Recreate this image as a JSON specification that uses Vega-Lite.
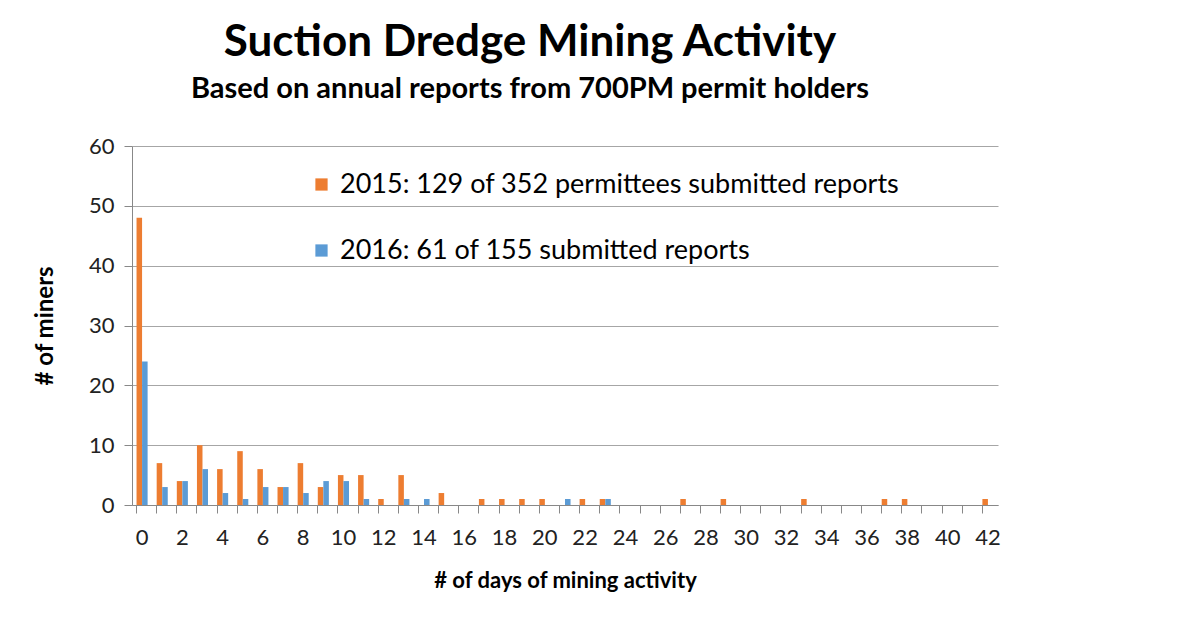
{
  "$schema": "https://vega.github.io/schema/vega-lite/v6.json",
  "width": 866,
  "height": 359,
  "autosize": "none",
  "padding": {"left": 132, "top": 146, "right": 201, "bottom": 129},
  "background": "white",
  "config": {"view": {"stroke": null}, "font": "Lato"},
  "title": {
    "text": "Suction Dredge Mining Activity",
    "subtitle": "Based on annual reports from 700PM permit holders",
    "font": "Lato", "fontSize": 44, "fontWeight": "bold", "color": "black",
    "subtitleFont": "Lato", "subtitleFontSize": 29, "subtitleFontWeight": "bold", "subtitleColor": "black",
    "subtitlePadding": 10, "anchor": "middle", "dx": -35, "offset": 31
  },
  "data": {"values": [
    {"day": 0, "series": "2015: 129 of 352 permittees submitted reports", "miners": 48},
    {"day": 1, "series": "2015: 129 of 352 permittees submitted reports", "miners": 7},
    {"day": 2, "series": "2015: 129 of 352 permittees submitted reports", "miners": 4},
    {"day": 3, "series": "2015: 129 of 352 permittees submitted reports", "miners": 10},
    {"day": 4, "series": "2015: 129 of 352 permittees submitted reports", "miners": 6},
    {"day": 5, "series": "2015: 129 of 352 permittees submitted reports", "miners": 9},
    {"day": 6, "series": "2015: 129 of 352 permittees submitted reports", "miners": 6},
    {"day": 7, "series": "2015: 129 of 352 permittees submitted reports", "miners": 3},
    {"day": 8, "series": "2015: 129 of 352 permittees submitted reports", "miners": 7},
    {"day": 9, "series": "2015: 129 of 352 permittees submitted reports", "miners": 3},
    {"day": 10, "series": "2015: 129 of 352 permittees submitted reports", "miners": 5},
    {"day": 11, "series": "2015: 129 of 352 permittees submitted reports", "miners": 5},
    {"day": 12, "series": "2015: 129 of 352 permittees submitted reports", "miners": 1},
    {"day": 13, "series": "2015: 129 of 352 permittees submitted reports", "miners": 5},
    {"day": 15, "series": "2015: 129 of 352 permittees submitted reports", "miners": 2},
    {"day": 17, "series": "2015: 129 of 352 permittees submitted reports", "miners": 1},
    {"day": 18, "series": "2015: 129 of 352 permittees submitted reports", "miners": 1},
    {"day": 19, "series": "2015: 129 of 352 permittees submitted reports", "miners": 1},
    {"day": 20, "series": "2015: 129 of 352 permittees submitted reports", "miners": 1},
    {"day": 22, "series": "2015: 129 of 352 permittees submitted reports", "miners": 1},
    {"day": 23, "series": "2015: 129 of 352 permittees submitted reports", "miners": 1},
    {"day": 27, "series": "2015: 129 of 352 permittees submitted reports", "miners": 1},
    {"day": 29, "series": "2015: 129 of 352 permittees submitted reports", "miners": 1},
    {"day": 33, "series": "2015: 129 of 352 permittees submitted reports", "miners": 1},
    {"day": 37, "series": "2015: 129 of 352 permittees submitted reports", "miners": 1},
    {"day": 38, "series": "2015: 129 of 352 permittees submitted reports", "miners": 1},
    {"day": 42, "series": "2015: 129 of 352 permittees submitted reports", "miners": 1},
    {"day": 0, "series": "2016: 61 of 155 submitted reports", "miners": 24},
    {"day": 1, "series": "2016: 61 of 155 submitted reports", "miners": 3},
    {"day": 2, "series": "2016: 61 of 155 submitted reports", "miners": 4},
    {"day": 3, "series": "2016: 61 of 155 submitted reports", "miners": 6},
    {"day": 4, "series": "2016: 61 of 155 submitted reports", "miners": 2},
    {"day": 5, "series": "2016: 61 of 155 submitted reports", "miners": 1},
    {"day": 6, "series": "2016: 61 of 155 submitted reports", "miners": 3},
    {"day": 7, "series": "2016: 61 of 155 submitted reports", "miners": 3},
    {"day": 8, "series": "2016: 61 of 155 submitted reports", "miners": 2},
    {"day": 9, "series": "2016: 61 of 155 submitted reports", "miners": 4},
    {"day": 10, "series": "2016: 61 of 155 submitted reports", "miners": 4},
    {"day": 11, "series": "2016: 61 of 155 submitted reports", "miners": 1},
    {"day": 13, "series": "2016: 61 of 155 submitted reports", "miners": 1},
    {"day": 14, "series": "2016: 61 of 155 submitted reports", "miners": 1},
    {"day": 21, "series": "2016: 61 of 155 submitted reports", "miners": 1},
    {"day": 23, "series": "2016: 61 of 155 submitted reports", "miners": 1}
  ]},
  "mark": {"type": "bar"},
  "encoding": {
    "x": {
      "field": "day", "type": "ordinal",
      "scale": {"domain": [0,1,2,3,4,5,6,7,8,9,10,11,12,13,14,15,16,17,18,19,20,21,22,23,24,25,26,27,28,29,30,31,32,33,34,35,36,37,38,39,40,41,42], "paddingInner": 0.45, "paddingOuter": 0.225},
      "axis": {
        "title": "# of days of mining activity",
        "titleFont": "Lato", "titleFontSize": 22, "titleFontWeight": "bold", "titleColor": "black", "titlePadding": 22,
        "labelExpr": "datum.value % 2 == 0 ? datum.label : ''",
        "labelAngle": 0, "labelFont": "Lato", "labelFontSize": 22, "labelColor": "#222",
        "labelPadding": 14, "bandPosition": 0,
        "tickSize": 8, "tickColor": "#888", "domainColor": "#888", "grid": false
      }
    },
    "xOffset": {"field": "series", "type": "nominal", "scale": {"domain": ["2015: 129 of 352 permittees submitted reports", "2016: 61 of 155 submitted reports"]}},
    "y": {
      "field": "miners", "type": "quantitative",
      "scale": {"domain": [0, 60]},
      "axis": {
        "title": "# of miners", "titleFont": "Lato", "titleFontSize": 24, "titleFontWeight": "bold", "titleColor": "black", "titlePadding": 31,
        "values": [0,10,20,30,40,50,60],
        "labelFont": "Lato", "labelFontSize": 22, "labelColor": "#222", "labelPadding": 10,
        "tickSize": 8, "tickColor": "#888", "domainColor": "#888",
        "gridColor": "#a6a6a6", "gridWidth": 1
      }
    },
    "color": {
      "field": "series", "type": "nominal",
      "scale": {"domain": ["2015: 129 of 352 permittees submitted reports", "2016: 61 of 155 submitted reports"], "range": ["#ED7D31", "#5B9BD5"]},
      "legend": {
        "title": null, "orient": "none", "legendX": 176, "legendY": 25,
        "symbolType": "square", "symbolSize": 150, "symbolStrokeWidth": 0,
        "labelFont": "Lato", "labelFontSize": 27, "labelColor": "black", "labelLimit": 900,
        "rowPadding": 38, "symbolOffset": 0, "labelOffset": 5
      }
    }
  }
}
